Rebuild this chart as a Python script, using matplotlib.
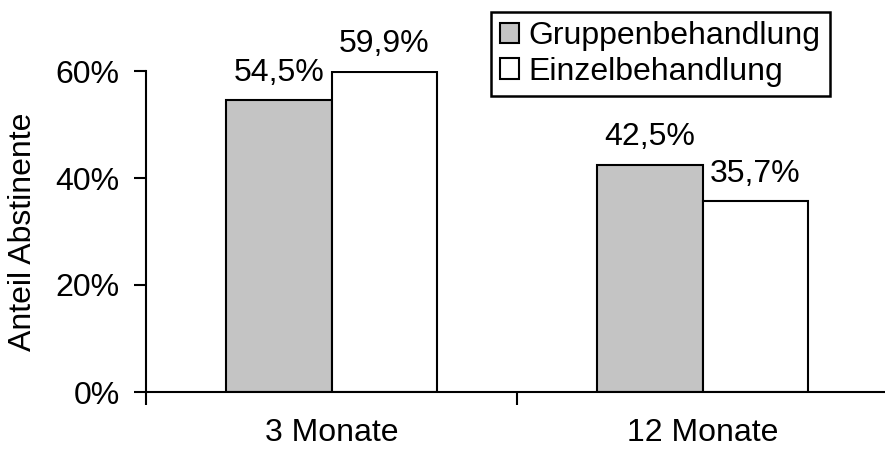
import numpy as np
import matplotlib.pyplot as plt
from matplotlib.patches import Patch

# Daten
kategorien = ["3 Monate", "12 Monate"]
gruppe = [54.5, 42.5]
einzel = [59.9, 35.7]
serien = ["Gruppenbehandlung", "Einzelbehandlung"]
yticks = [0, 20, 40, 60]

plt.rcParams["font.family"] = ["Liberation Sans", "DejaVu Sans"]
plt.rcParams["font.size"] = 23

fig = plt.figure(figsize=(8.85, 4.49), dpi=100)
ax = fig.add_axes([146/885, 57/449, 742/885, 321/449])

x = np.arange(len(kategorien))
w = 0.285
b1 = ax.bar(x - w/2, gruppe, w, color="#c4c4c4", edgecolor="black", linewidth=1.5)
b2 = ax.bar(x + w/2, einzel, w, color="white", edgecolor="black", linewidth=1.5)

for bars, vals in [(b1, gruppe), (b2, einzel)]:
    for r, v in zip(bars, vals):
        ax.text(r.get_x() + r.get_width()/2, v + 2.3, f"{v:.1f}%".replace(".", ","),
                ha="center", va="bottom")

ax.set_xlim(-0.5, 1.5)
ax.set_ylim(0, 60)
ax.set_yticks(yticks)
ax.set_yticklabels([f"{t}%" for t in yticks])
ax.set_xticks(x)
ax.set_xticklabels(kategorien)
ax.set_xticks([-0.5, 0.5, 1.5], minor=True)
ax.tick_params(axis="x", which="major", length=0, pad=19)
ax.tick_params(axis="x", which="minor", length=9, width=1.5, direction="out")
ax.tick_params(axis="y", length=9, width=1.5, direction="out", pad=10)
for s in ["top", "right"]:
    ax.spines[s].set_visible(False)
for s in ["left", "bottom"]:
    ax.spines[s].set_linewidth(1.5)

fig.text(23/885, 1 - 232/449, "Anteil Abstinente", rotation=90, ha="center", va="center")

handles = [Patch(facecolor="#c4c4c4", edgecolor="black", linewidth=1.5),
           Patch(facecolor="white", edgecolor="black", linewidth=1.5)]
leg = fig.legend(handles, serien, loc="upper left", bbox_to_anchor=(491/885, 1 - 12/449),
                 fancybox=False, frameon=True, edgecolor="black", framealpha=1,
                 handlelength=0.6, handleheight=0.6, handletextpad=0.3,
                 borderpad=0.28, labelspacing=0.18, borderaxespad=0)
leg.get_frame().set_linewidth(1.8)

fig.savefig("out.png", dpi=100)
